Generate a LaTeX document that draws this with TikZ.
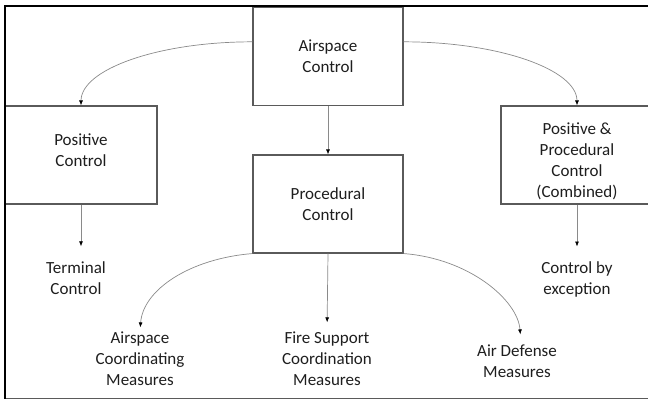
\documentclass[tikz,border=0pt]{standalone}
\usepackage{fontspec}
\setmainfont{Carlito}
\usetikzlibrary{arrows.meta}

\definecolor{boxline}{HTML}{5A5A5A}
\definecolor{linkline}{HTML}{8A8A8A}
\definecolor{inktext}{HTML}{1E1E1E}

\tikzset{
  every node/.style={font=\fontsize{17}{21}\selectfont, text=inktext},
  ctlbox/.style={draw=boxline, line width=1.1pt, fill=white, align=center,
                 minimum width=150pt, minimum height=98pt, inner sep=0pt},
  leaf/.style={align=center, inner sep=0pt},
  link/.style={draw=linkline, line width=0.7pt,
               -{Latex[length=5pt,width=4pt,color=black]}},
}

\begin{document}
\begin{tikzpicture}[x=1pt, y=-1pt]
  \useasboundingbox (0,0) rectangle (648,400);
  \clip (0,0) rectangle (648,400);

  % control boxes
  \node[ctlbox] (air)  at (328,56.5) {Airspace\\Control};
  \node[ctlbox, minimum width=152pt, text depth=10pt] (pos) at (81,155) {Positive\\Control};
  \node[ctlbox, minimum width=152pt, text height=87pt] (comb) at (577,155) {Positive \&\\Procedural\\Control\\(Combined)};
  \node[ctlbox] (proc) at (328,204) {Procedural\\Control};

  % subordinate categories
  \node[leaf] (term) at (76,278)   {Terminal\\Control};
  \node[leaf] (exc)  at (577,279.5) {Control by\\exception};
  \node[leaf] (acm)  at (140,358.5) {Airspace\\Coordinating\\Measures};
  \node[leaf] (fscm) at (327,358.5) {Fire Support\\Coordination\\Measures};
  \node[leaf] (adm)  at (517,361)   {Air Defense\\Measures};

  % connectors
  \draw[link] (air.169) .. controls +(-95,0) and +(0,-36) .. (pos.north);
  \draw[link] (air.11) .. controls +(95,0) and +(0,-36) .. (comb.north);
  \draw[link] (air.south) -- (proc.north);
  \draw[link, shorten >=15pt] (pos.south) -- (pos.south |- term.north);
  \draw[link, shorten >=15pt] (comb.south) -- (exc.north);
  \draw[link, shorten >=4pt] (proc.south west) .. controls +(-62,5) and +(3,-42) .. (acm.north);
  \draw[link, shorten >=9pt] (proc.south) -- (fscm.north);
  \draw[link, shorten >=10pt] (proc.south east) .. controls +(66,5) and +(-3,-44) .. ([xshift=4pt]adm.north);

  % outer frame
  \draw[draw=boxline, line width=1.4pt] (5,398.5) -- (660,398.5);
  \draw[black, line width=2pt] (660,6) -- (5.2,6) -- (5.2,398.5);
\end{tikzpicture}
\end{document}
